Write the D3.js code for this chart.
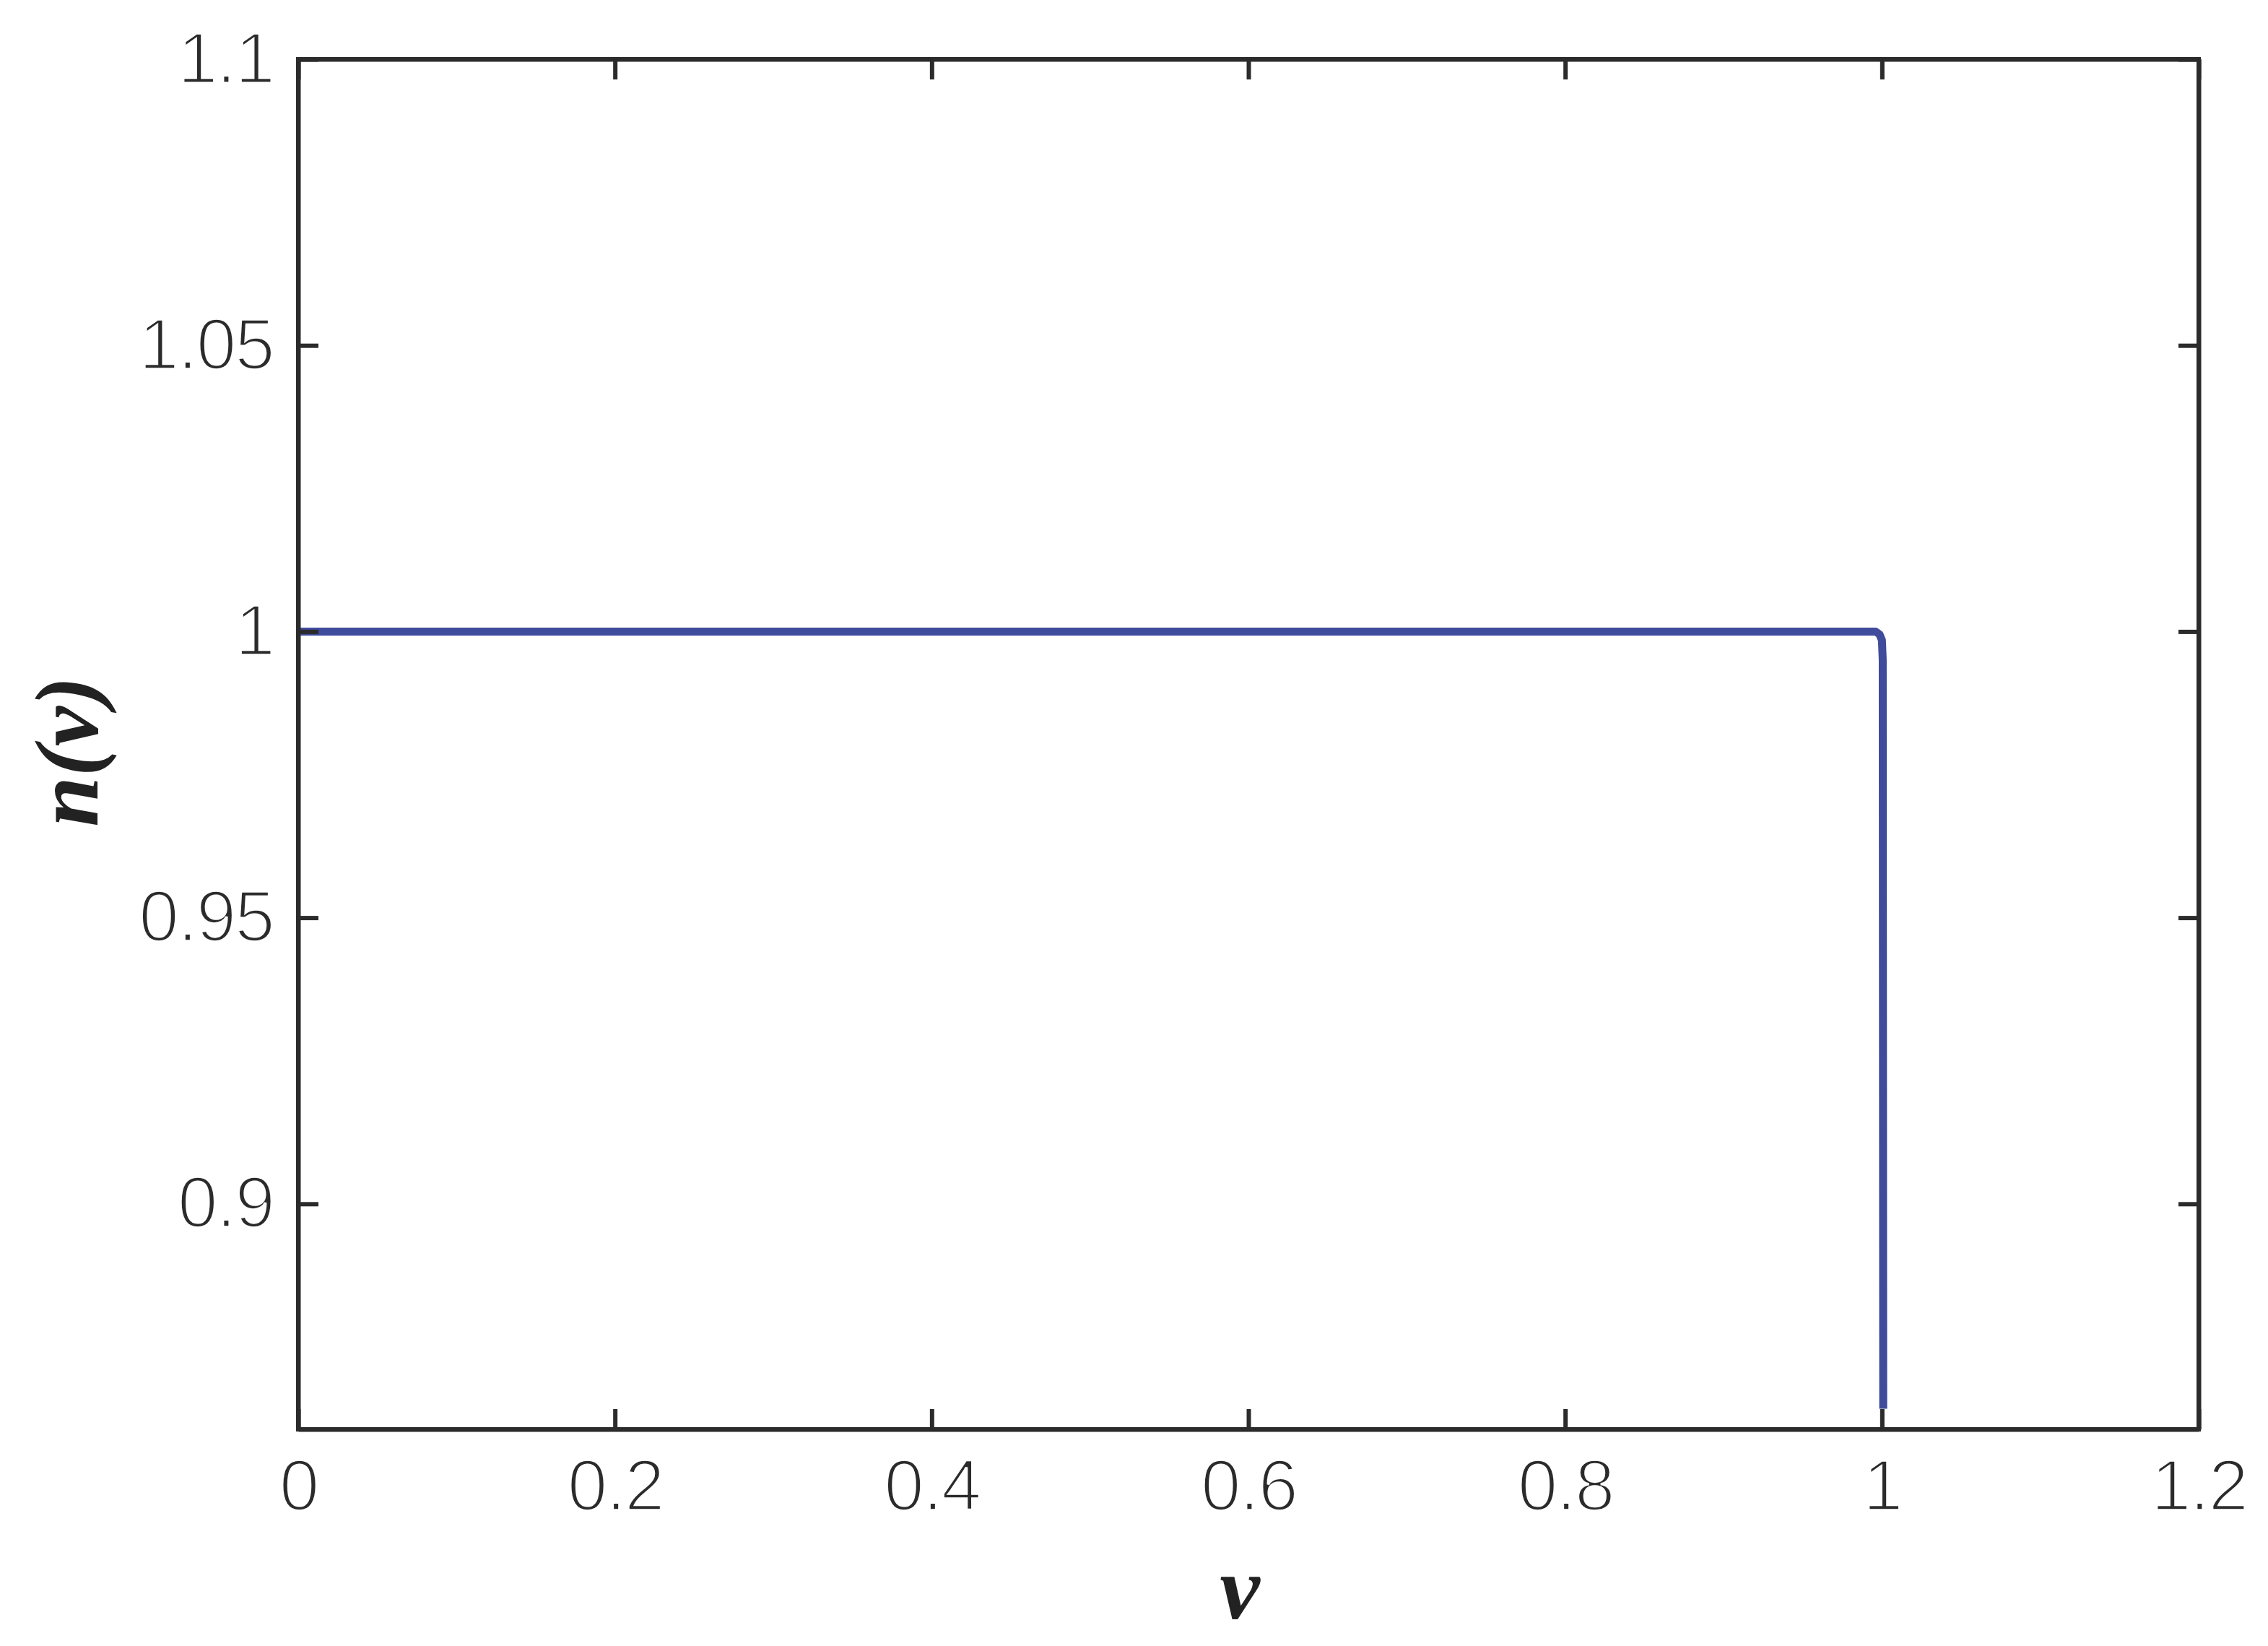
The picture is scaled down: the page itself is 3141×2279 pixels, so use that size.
<!DOCTYPE html>
<html>
<head>
<meta charset="utf-8">
<script src="https://cdn.jsdelivr.net/npm/d3@7/dist/d3.min.js"></script>
<style>
  body { margin: 0; background: #fff; }
  .tick text { font-family: "Liberation Sans", Arial, sans-serif; font-size: 100px; fill: #2b2b2b;
               stroke: #fff; stroke-width: 3.5px; paint-order: fill; letter-spacing: -2px; }
  .lbl { font-family: "Liberation Serif", "Times New Roman", serif; font-style: italic; font-weight: bold; font-size: 125px; fill: #222; }
</style>
</head>
<body>
<svg id="chart" width="3141" height="2279"></svg>
<script>
// ---- data ----
var vValues = [0, 0.5, 0.996, 0.9985, 1.0, 1.0005, 1.0008];
var nValues = [1, 1, 1, 0.9995, 0.9985, 0.995, 0.8642];
var xTicks = [0, 0.2, 0.4, 0.6, 0.8, 1, 1.2];
var yTicks = [0.9, 0.95, 1, 1.05, 1.1];
var xDomain = [0, 1.2];
var yDomain = [0.8606, 1.1];

// ---- layout ----
var W = 3141, H = 2279;
var plotL = 413, plotR = 3045, plotT = 82, plotB = 1979;
var ink = "#2b2b2b";

var svg = d3.select("#chart");
svg.append("rect").attr("width", W).attr("height", H).attr("fill", "#fff");

var x = d3.scaleLinear().domain(xDomain).range([plotL, plotR]);
var y = d3.scaleLinear().domain(yDomain).range([plotB, plotT]);

// line first, axes over it (ticks show on top like the original)
var pts = vValues.map(function(v, i) { return [v, nValues[i]]; });
var line = d3.line().x(function(d) { return x(d[0]); }).y(function(d) { return y(d[1]); });

svg.append("path")
	.datum(pts)
	.attr("d", line)
	.attr("fill", "none")
	.attr("stroke", "#3f4b9b")
	.attr("stroke-width", 11)
	.attr("stroke-linejoin", "round");

function styleAxis(g) {
	g.select(".domain").attr("stroke", ink).attr("stroke-width", 6);
	g.selectAll(".tick line").attr("stroke", ink).attr("stroke-width", 6);
	g.attr("font-family", null).attr("font-size", null);
}

// bottom
svg.append("g")
	.attr("transform", "translate(0," + plotB + ")")
	.call(d3.axisBottom(x).tickValues(xTicks).tickSizeInner(-28).tickSizeOuter(0).tickPadding(41).tickFormat(d3.format("~g")))
	.call(styleAxis);
// top
svg.append("g")
	.attr("transform", "translate(0," + plotT + ")")
	.call(d3.axisTop(x).tickValues(xTicks).tickSizeInner(-28).tickSizeOuter(0).tickFormat(""))
	.call(styleAxis);
// left
svg.append("g")
	.attr("transform", "translate(" + plotL + ",0)")
	.call(d3.axisLeft(y).tickValues(yTicks).tickSizeInner(-28).tickSizeOuter(0).tickPadding(34).tickFormat(d3.format("~g")))
	.call(styleAxis);
// right
svg.append("g")
	.attr("transform", "translate(" + plotR + ",0)")
	.call(d3.axisRight(y).tickValues(yTicks).tickSizeInner(-28).tickSizeOuter(0).tickFormat(""))
	.call(styleAxis);

// frame so the box closes cleanly
svg.append("rect")
	.attr("x", plotL).attr("y", plotT)
	.attr("width", plotR - plotL).attr("height", plotB - plotT)
	.attr("fill", "none").attr("stroke", ink).attr("stroke-width", 6);

// axis labels
svg.append("text").attr("class", "lbl")
	.attr("x", (plotL + plotR) / 2 - 12).attr("y", 2241)
	.attr("text-anchor", "middle")
	.text("v");

svg.append("text").attr("class", "lbl")
	.attr("transform", "translate(135," + ((plotT + plotB) / 2 + 10) + ") rotate(-90)")
	.attr("text-anchor", "middle")
	.text("n(v)");
</script>
</body>
</html>
